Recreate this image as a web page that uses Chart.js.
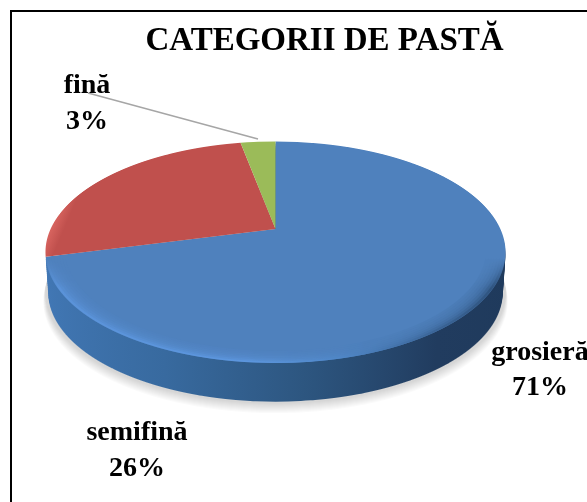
<!DOCTYPE html>
<html lang="ro">
<head>
  <meta charset="UTF-8">
  <title>Categorii de pastă</title>
  <script src="https://cdn.jsdelivr.net/npm/chart.js"></script>
  <style>
    html, body { margin: 0; padding: 0; background: #fff; }
    canvas { display: block; }
  </style>
</head>
<body>
  <canvas id="pie" width="587" height="502"></canvas>

  <script>
    const categorii = ['grosieră', 'semifină', 'fină'];
    const valori = [71, 26, 3];
    const culori = ['#4f81bd', '#c0504d', '#9bbb59'];
    const titlu = 'CATEGORII DE PASTĂ';

    const fontTitlu = 'bold 33px "Liberation Serif"';
    const fontEticheta = 'bold 28px "Liberation Serif"';
    // centru text, linia 1, linia 2
    const pozEtichete = [[540, 360, 395], [137, 440, 476], [87, 93, 129]];

    // pie seen in perspective: the centre of the slices is above the centre of the ellipse
    const centruX = 275.5, centruY = 252, razaX = 230, razaY = 110.5;
    const d = -23, e = -0.21, c = 110.7;
    const f = razaX * (1 + e * (-d / c)) / Math.sqrt(1 - (d / c) * (d / c));
    const adancime = 40;

    function deseneazaRand(ctx, arcs, dy, k, fill, minY, fade) {
      const a0 = arcs[0];
      const R = a0.outerRadius;
      const top = Math.max(Math.floor(centruY + dy - razaY * k) - 1, minY || 0);
      const bottom = Math.ceil(centruY + dy + razaY * k) + 1;
      for (let Y = top; Y < bottom; Y++) {
        const rel = (Y + 0.5 - centruY - dy) / k;
        const y = (rel - d) / (c - e * rel);
        if (y < -1.05 || y > 1.05) continue;
        const w = 1 + e * y;
        const sx = k * f / w / R;
        const sy = k * (c - d * e) / (w * w) / R;
        ctx.save();
        if (fade) ctx.globalAlpha = Math.min(1, (Y - minY) / fade);
        ctx.beginPath();
        ctx.rect(0, Y, 587, 1);
        ctx.clip();
        ctx.transform(sx, 0, 0, sy, centruX - sx * a0.x, Y + 0.5 - sy * (a0.y + y * R));
        arcs.forEach((arc, i) => {
          const copie = Object.create(arc);
          copie.options = Object.assign({}, arc.options, { backgroundColor: fill[i] });
          copie.draw(ctx);
        });
        ctx.restore();
      }
    }

    const pie3d = {
      id: 'pie3d',
      beforeDatasetsDraw(chart) {
        const ctx = chart.ctx;
        const arcs = chart.getDatasetMeta(0).data;
        const a0 = arcs[0];
        const R = a0.outerRadius;

        // umbra
        for (let i = 10; i >= 1; i--) {
          const u = 'rgba(0,0,0,0.02)';
          deseneazaRand(ctx, arcs, adancime + i * 0.9, 1 + i * 0.0010, [u, u, u]);
        }

        // marginea (doar felia albastra se vede)
        const g = ctx.createLinearGradient(a0.x - R, 0, a0.x + R, 0);
        g.addColorStop(0, '#4278b6');
        g.addColorStop(0.3, '#386a9f');
        g.addColorStop(0.55, '#2d5680');
        g.addColorStop(0.8, '#213c5f');
        g.addColorStop(1, '#1f3a5c');
        for (let s = adancime; s > 0; s -= 2) {
          deseneazaRand(ctx, [a0], s, 1 - 0.012 * s / adancime, [g]);
        }

        // fata
        const rosu = ctx.createLinearGradient(a0.x - R, 0, a0.x + R, 0);
        rosu.addColorStop(0, '#d8645f');
        rosu.addColorStop(0.03, '#c0504d');
        deseneazaRand(ctx, arcs, 0, 1, [culori[0], rosu, culori[2]]);

        // bizou: banda deschisa in stanga, inchisa in dreapta, in interiorul fetei
        const b = ctx.createLinearGradient(a0.x - R, 0, a0.x + R, 0);
        b.addColorStop(0, '#5a92d8');
        b.addColorStop(0.45, '#5c96de');
        b.addColorStop(0.62, '#4f86c6');
        b.addColorStop(0.8, '#3a6496');
        b.addColorStop(1, '#2a4c74');
        deseneazaRand(ctx, [a0], 0, 1, [b], 258, 30);
        for (let i = 1; i <= 7; i++) {
          ctx.globalAlpha = i === 7 ? 1 : 0.3;
          deseneazaRand(ctx, [a0], -i * 0.4, 1 - i * 0.012, [culori[0]], 258);
        }
        ctx.globalAlpha = 1;
        return false;
      },
      afterDraw(chart) {
        const ctx = chart.ctx;
        ctx.save();

        // cadru
        ctx.fillStyle = '#000';
        ctx.fillRect(10, 10, 577, 2);
        ctx.fillRect(10, 10, 2, 492);

        // linie de legatura
        ctx.strokeStyle = '#a6a6a6';
        ctx.lineWidth = 1.5;
        ctx.beginPath();
        ctx.moveTo(88, 93);
        ctx.lineTo(258, 139);
        ctx.stroke();

        ctx.fillStyle = '#000';
        ctx.textAlign = 'center';
        ctx.font = fontTitlu;
        ctx.fillText(titlu, 324.5, 50);
        ctx.font = fontEticheta;
        categorii.forEach((nume, i) => {
          const p = pozEtichete[i];
          ctx.fillText(nume, p[0], p[1]);
          ctx.fillText(valori[i] + '%', p[0], p[2]);
        });
        ctx.restore();
      }
    };

    new Chart(document.getElementById('pie'), {
      type: 'pie',
      data: {
        labels: categorii,
        datasets: [{ data: valori, backgroundColor: culori, borderWidth: 0 }]
      },
      options: {
        responsive: false,
        animation: false,
        plugins: {
          legend: { display: false },
          tooltip: { enabled: false }
        }
      },
      plugins: [pie3d]
    });
  </script>
</body>
</html>
